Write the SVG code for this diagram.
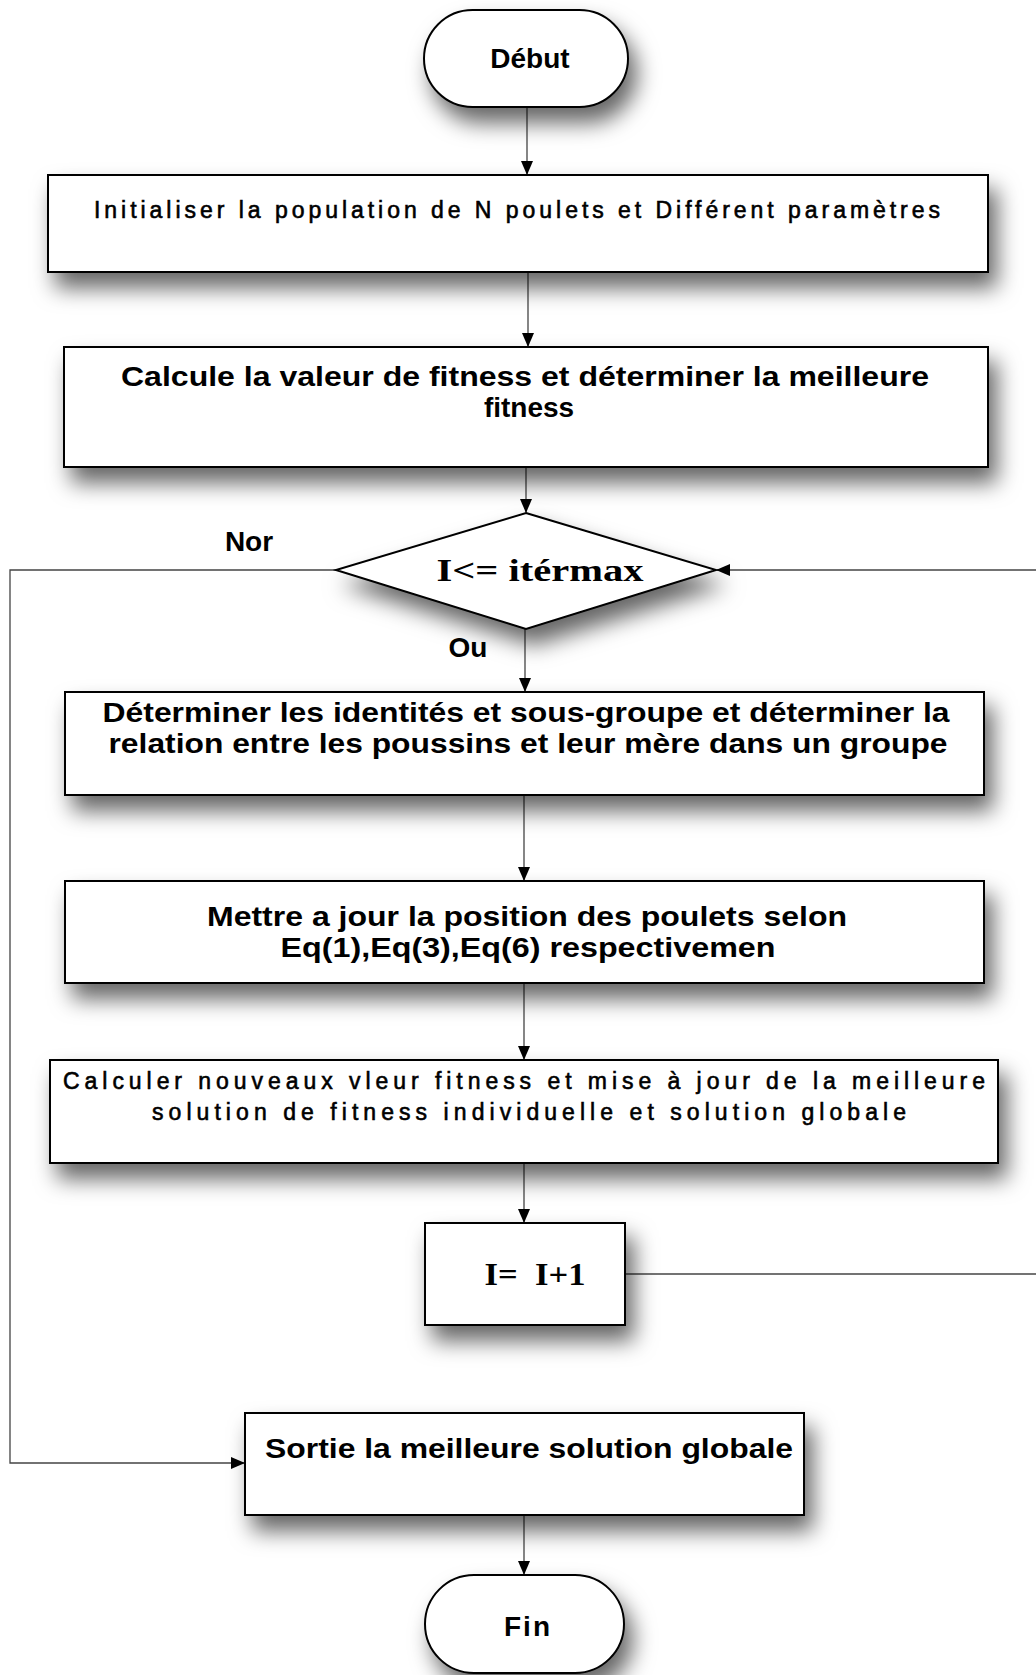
<svg xmlns="http://www.w3.org/2000/svg" width="1036" height="1675" viewBox="0 0 1036 1675">
  <style>
    .box { fill: #ffffff; stroke: #000000; stroke-width: 2; filter: url(#shadow); }
    .lbl { font-family: "Liberation Sans", Arial, sans-serif; font-weight: bold; font-size: 28px; fill: #000; text-anchor: middle; }
    .thin { font-family: "Liberation Sans", Arial, sans-serif; font-size: 23px; fill: #000; text-anchor: middle; stroke: #000; stroke-width: 0.6; }
    .serif { font-family: "Liberation Serif", "Times New Roman", serif; font-weight: bold; font-size: 32px; fill: #000; text-anchor: middle; }
    .edge { fill: none; stroke: #444444; stroke-width: 1.3; }
  </style>
  <defs>
    <filter id="shadow" x="-25%" y="-40%" width="160%" height="200%">
      <feDropShadow dx="8" dy="15" stdDeviation="11" flood-color="#000" flood-opacity="0.6"/>
    </filter>
    <marker id="arrow" markerWidth="14" markerHeight="14" refX="13" refY="7" orient="auto" markerUnits="userSpaceOnUse">
      <path d="M0,1 L14,7 L0,13 Z" fill="#000"/>
    </marker>
  </defs>

  <rect width="1036" height="1675" fill="#ffffff"/>

  <!-- connectors -->
  <g id="connectors">
    <line class="edge" x1="527" y1="107" x2="527" y2="174" marker-end="url(#arrow)"/>
    <line class="edge" x1="528" y1="272" x2="528" y2="346" marker-end="url(#arrow)"/>
    <line class="edge" x1="526" y1="467" x2="526" y2="512" marker-end="url(#arrow)"/>
    <line class="edge" x1="525" y1="629" x2="525" y2="691" marker-end="url(#arrow)"/>
    <line class="edge" x1="524" y1="795" x2="524" y2="880" marker-end="url(#arrow)"/>
    <line class="edge" x1="524" y1="983" x2="524" y2="1059" marker-end="url(#arrow)"/>
    <line class="edge" x1="524" y1="1163" x2="524" y2="1222" marker-end="url(#arrow)"/>
    <line class="edge" x1="524" y1="1515" x2="524" y2="1574" marker-end="url(#arrow)"/>
    <!-- exit branch: condition false -->
    <polyline class="edge" points="336,570 10,570 10,1463 244,1463" marker-end="url(#arrow)"/>
    <!-- loop back to the condition -->
    <line class="edge" x1="1036" y1="570" x2="717" y2="570" marker-end="url(#arrow)"/>
    <line class="edge" x1="625" y1="1274" x2="1036" y2="1274"/>
  </g>

  <!-- nodes -->
  <g id="start">
    <rect class="box" x="424" y="10" width="204" height="97" rx="48.5" ry="48.5"/>
    <text class="lbl" x="530" y="68" font-size="29">Début</text>
  </g>

  <g id="init">
    <rect class="box" x="48" y="175" width="940" height="97"/>
    <text class="thin" x="517" y="218" textLength="846" lengthAdjust="spacing">Initialiser la population de N poulets et Différent paramètres</text>
  </g>

  <g id="fitness">
    <rect class="box" x="64" y="347" width="924" height="120"/>
    <text class="lbl" x="525" y="386" textLength="808" lengthAdjust="spacingAndGlyphs">Calcule la valeur de fitness et déterminer la meilleure</text>
    <text class="lbl" x="529" y="417">fitness</text>
  </g>

  <g id="condition">
    <polygon class="box" points="526,513 716,570 526,629 336,570"/>
    <text class="serif" x="540" y="581" textLength="207" lengthAdjust="spacingAndGlyphs">I&lt;= itérmax</text>
  </g>
  <text class="lbl" x="249" y="551">Nor</text>
  <text class="lbl" x="468" y="657">Ou</text>

  <g id="groups">
    <rect class="box" x="65" y="692" width="919" height="103"/>
    <text class="lbl" x="526" y="722" textLength="847" lengthAdjust="spacingAndGlyphs">Déterminer les identités et sous-groupe et déterminer la</text>
    <text class="lbl" x="528" y="753" textLength="839" lengthAdjust="spacingAndGlyphs">relation entre les poussins et leur mère dans un groupe</text>
  </g>

  <g id="update">
    <rect class="box" x="65" y="881" width="919" height="102"/>
    <text class="lbl" x="527" y="926" textLength="640" lengthAdjust="spacingAndGlyphs">Mettre a jour la position des poulets selon</text>
    <text class="lbl" x="528" y="957" textLength="495" lengthAdjust="spacingAndGlyphs">Eq(1),Eq(3),Eq(6) respectivemen</text>
  </g>

  <g id="evaluate">
    <rect class="box" x="50" y="1060" width="948" height="103"/>
    <text class="thin" x="524" y="1089" textLength="922" lengthAdjust="spacing">Calculer nouveaux vleur fitness et mise à jour de la meilleure</text>
    <text class="thin" x="529" y="1120" textLength="754" lengthAdjust="spacing">solution de fitness individuelle et solution globale</text>
  </g>

  <g id="increment">
    <rect class="box" x="425" y="1223" width="200" height="102"/>
    <text class="serif" x="535" y="1285" textLength="101" lengthAdjust="spacingAndGlyphs" xml:space="preserve">I=  I+1</text>
  </g>

  <g id="output">
    <rect class="box" x="245" y="1413" width="559" height="102"/>
    <text class="lbl" x="529" y="1458" textLength="528" lengthAdjust="spacingAndGlyphs">Sortie la meilleure solution globale</text>
  </g>

  <g id="end">
    <rect class="box" x="425" y="1575" width="199" height="98" rx="49" ry="49"/>
    <text class="lbl" x="528" y="1636" font-size="25" letter-spacing="2">Fin</text>
  </g>
</svg>
